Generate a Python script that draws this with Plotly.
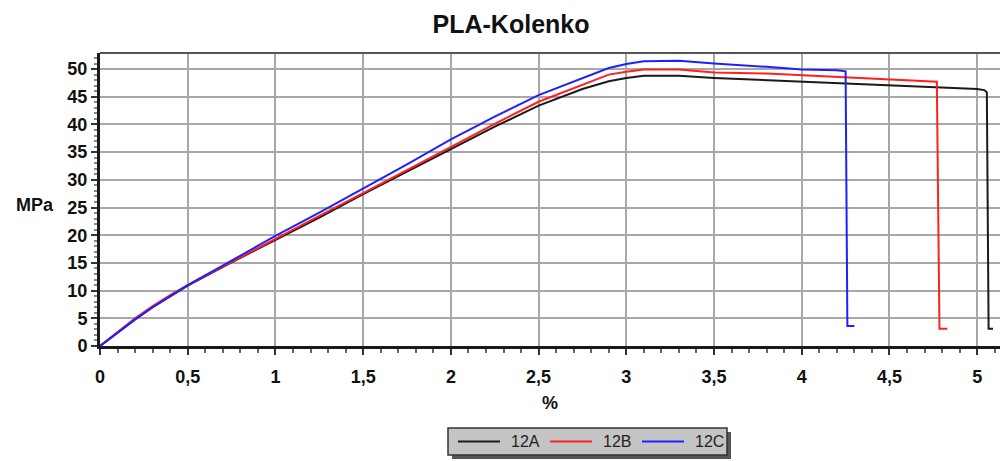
import plotly.graph_objects as go

# ---- data ----
x_12A = [0, 0.1, 0.2, 0.3, 0.4, 0.5, 0.75, 1.0, 1.25, 1.5, 1.75, 2.0, 2.25, 2.5, 2.75, 2.9, 3.0, 3.1, 3.3, 3.5, 3.8, 4.0, 4.3, 4.5, 4.8, 5.0, 5.04, 5.055, 5.065, 5.09]
y_12A = [0, 2.4, 4.8, 7.0, 9.0, 10.9, 15.1, 19.1, 23.2, 27.4, 31.5, 35.6, 39.6, 43.4, 46.4, 47.8, 48.4, 48.8, 48.8, 48.4, 48.0, 47.7, 47.3, 47.0, 46.7, 46.4, 46.2, 45.8, 3.1, 3.1]

x_12B = [0, 0.1, 0.2, 0.3, 0.4, 0.5, 0.75, 1.0, 1.25, 1.5, 1.75, 2.0, 2.25, 2.5, 2.75, 2.9, 3.0, 3.1, 3.3, 3.5, 3.8, 4.0, 4.3, 4.5, 4.7, 4.77, 4.785, 4.83]
y_12B = [0, 2.5, 5.0, 7.2, 9.2, 11.0, 15.2, 19.3, 23.5, 27.6, 31.8, 36.0, 40.1, 44.1, 47.1, 49.0, 49.5, 49.9, 49.9, 49.4, 49.2, 48.9, 48.5, 48.2, 47.9, 47.7, 3.1, 3.1]

x_12C = [0, 0.1, 0.2, 0.3, 0.4, 0.5, 0.75, 1.0, 1.25, 1.5, 1.75, 2.0, 2.25, 2.5, 2.75, 2.9, 3.0, 3.1, 3.3, 3.5, 3.8, 4.0, 4.2, 4.25, 4.26, 4.30]
y_12C = [0, 2.4, 4.8, 7.0, 9.0, 11.0, 15.4, 19.9, 24.1, 28.4, 32.8, 37.3, 41.4, 45.3, 48.4, 50.2, 50.9, 51.4, 51.5, 51.0, 50.4, 49.9, 49.8, 49.6, 3.6, 3.6]

names = ["12A", "12B", "12C"]
colors = ["#1a1a1a", "#ff2020", "#2020ff"]
series = list(zip(names, [x_12A, x_12B, x_12C], [y_12A, y_12B, y_12C], colors))

x_ticks = [0, 0.5, 1, 1.5, 2, 2.5, 3, 3.5, 4, 4.5, 5]
y_ticks = [0, 5, 10, 15, 20, 25, 30, 35, 40, 45, 50]
x_ticktext = ["<b>" + f"{v:g}".replace(".", ",") + "</b>" for v in x_ticks]
y_ticktext = ["<b>" + f"{v:g}" + "</b>" for v in y_ticks]

fig = go.Figure()
for name, xs, ys, col in series:
    fig.add_trace(go.Scatter(x=xs, y=ys, mode="lines", name=name,
                             line=dict(color=col, width=2)))

font = "Liberation Sans, Arial, sans-serif"
tickfont = dict(size=18, family=font, color="#111111")
fig.update_layout(
    width=1002, height=461,
    margin=dict(l=100, r=2, t=53, b=115, autoexpand=False),
    paper_bgcolor="white", plot_bgcolor="white",
    font=dict(family=font, color="#111111"),
    title=dict(text="<b>PLA-Kolenko</b>", x=0.51, xanchor="center",
               y=0.948, yanchor="middle", font=dict(size=25, color="#111111")),
    showlegend=False,
    xaxis=dict(range=[0, 5.13], tickvals=x_ticks, ticktext=x_ticktext, automargin=False,
               showgrid=True, gridcolor="#a8a8a8", gridwidth=2,
               showline=True, linecolor="#1a1a1a", linewidth=3,
               ticks="outside", ticklen=6, tickwidth=1.5, tickcolor="#333333",
               ticklabelstandoff=6,
               minor=dict(dtick=0.1, ticks="outside", ticklen=4, tickcolor="#666666", showgrid=False),
               tickfont=tickfont,
               title=dict(text="<b>%</b>", font=dict(size=18), standoff=11),
               zeroline=False),
    yaxis=dict(range=[0, 52.9], tickvals=y_ticks, ticktext=y_ticktext, automargin=False,
               showgrid=True, gridcolor="#a8a8a8", gridwidth=2,
               showline=True, linecolor="#1a1a1a", linewidth=3,
               ticks="outside", ticklen=6, tickwidth=1.5, tickcolor="#333333",
               minor=dict(dtick=1, ticks="outside", ticklen=3, tickcolor="#888888", showgrid=False),
               tickfont=tickfont,
               zeroline=False),
)

# top border of plot area
fig.add_shape(type="line", xref="paper", yref="paper", x0=0, x1=1, y0=1, y1=1,
              line=dict(color="#555555", width=2))
# y axis title, horizontal
fig.add_annotation(text="<b>MPa</b>", xref="paper", yref="paper",
                   x=-0.072, y=0.48, xanchor="center", yanchor="middle",
                   showarrow=False, font=dict(size=18, color="#111111"))

# ---- boxed legend (pixel layout converted to paper coords) ----
PX0, PW, PY0, PH = 100, 900, 346, 293
def px(x): return (x - PX0) / PW
def py(y): return (PY0 - y) / PH

# shadow
fig.add_shape(type="rect", xref="paper", yref="paper",
              x0=px(452), x1=px(731), y0=py(459), y1=py(432),
              fillcolor="#555555", line=dict(width=0))
# box
fig.add_shape(type="rect", xref="paper", yref="paper",
              x0=px(448), x1=px(727), y0=py(455), y1=py(428),
              fillcolor="#c4c4c4", line=dict(color="#333333", width=1.5))
for i, (name, col) in enumerate(zip(names, colors)):
    lx = 458 + i * 92
    fig.add_shape(type="line", xref="paper", yref="paper",
                  x0=px(lx), x1=px(lx + 42), y0=py(441.5), y1=py(441.5),
                  line=dict(color=col, width=2))
    fig.add_annotation(text=name, xref="paper", yref="paper",
                       x=px(lx + 51), y=py(441.5), xanchor="left", yanchor="middle",
                       showarrow=False, font=dict(size=16, color="#222222"))

fig.write_html("out.html", config={"displayModeBar": False},
               post_script="document.body.style.margin='0';document.body.style.padding='0';document.body.style.overflow='hidden';")
